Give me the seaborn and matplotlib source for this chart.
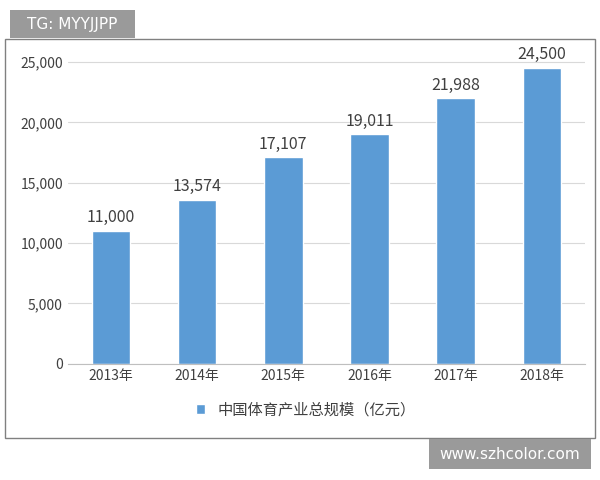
import matplotlib.pyplot as plt
import seaborn as sns
import pandas as pd
from matplotlib.patches import Rectangle

years = ["2013年", "2014年", "2015年", "2016年", "2017年", "2018年"]
values = [11000, 13574, 17107, 19011, 21988, 24500]
series_name = "中国体育产业总规模（亿元）"

sns.set_style("white")
plt.rcParams["font.family"] = ["Noto Sans CJK SC", "DejaVu Sans"]

df = pd.DataFrame({"year": years, "value": values})

fig = plt.figure(figsize=(6, 4.8), dpi=100)
ax = fig.add_axes([0.113, 0.242, 0.862, 0.654])
sns.barplot(data=df, x="year", y="value", color="#5B9BD5", width=0.45,
            saturation=1, ax=ax, label=series_name)
ax.set_ylim(0, 26000)
ax.set_yticks(range(0, 25001, 5000))
ax.set_yticklabels([f"{v:,}" for v in range(0, 25001, 5000)])
ax.yaxis.grid(True, color="#d9d9d9", linewidth=0.8)
ax.set_axisbelow(True)
for s in ["top", "right", "left"]:
    ax.spines[s].set_visible(False)
ax.spines["bottom"].set_color("#bfbfbf")
ax.tick_params(axis="both", length=0, labelsize=10, colors="#404040")
ax.set_xlabel("")
ax.set_ylabel("")
for i, v in enumerate(values):
    ax.text(i, v + 400, f"{v:,}", ha="center", va="bottom", fontsize=11.5, color="#404040")

leg = ax.legend(loc="upper center", bbox_to_anchor=(0.46, -0.075), frameon=False,
                fontsize=11, handlelength=0.6, handleheight=0.6)
for t in leg.get_texts():
    t.set_color("#404040")

# outer border
fig.patches.append(Rectangle((0.008, 0.088), 0.984, 0.83, transform=fig.transFigure,
                             fill=False, edgecolor="#808080", linewidth=1))
# watermark boxes
fig.patches.append(Rectangle((0.017, 0.92), 0.208, 0.06, transform=fig.transFigure,
                             facecolor="#9a9a9a", edgecolor="none"))
fig.text(0.12, 0.95, "TG: MYYJJPP", color="white", fontsize=11, ha="center", va="center",
         family=["DejaVu Sans"])
fig.patches.append(Rectangle((0.715, 0.022), 0.27, 0.063, transform=fig.transFigure,
                             facecolor="#9a9a9a", edgecolor="none"))
fig.text(0.85, 0.053, "www.szhcolor.com", color="white", fontsize=11, ha="center",
         va="center", family=["DejaVu Sans"])

fig.savefig("out.png", dpi=100)
